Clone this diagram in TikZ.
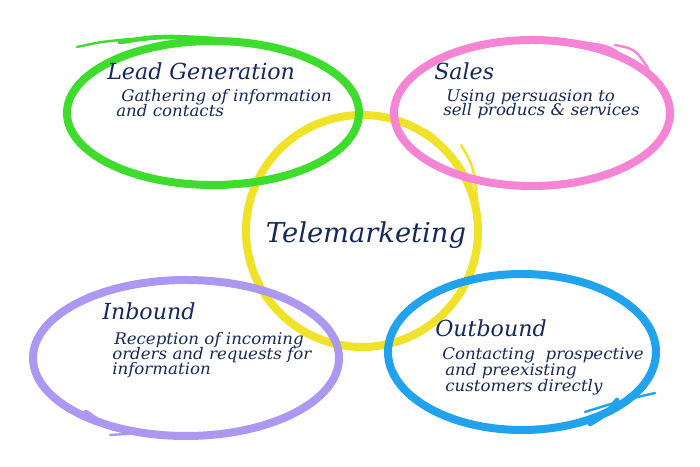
\documentclass[tikz,border=0pt]{standalone}
\usepackage{fontspec}
\newfontfamily\hand{DejaVu Serif Italic}
\newfontfamily\handb[FakeStretch=1.04]{DejaVu Serif Italic}
\definecolor{cgreen}{RGB}{62,220,44}
\definecolor{cpink}{RGB}{245,132,212}
\definecolor{cyellow}{RGB}{240,226,40}
\definecolor{cpurple}{RGB}{172,152,242}
\definecolor{cblue}{RGB}{32,162,236}
\definecolor{navy}{RGB}{22,40,92}
\begin{document}
\begin{tikzpicture}[x=0.75pt,y=0.75pt,
  ring/.style={line width=6pt},
  tailthin/.style={line width=1.8pt,line cap=round},
  tailmid/.style={line width=3.5pt,line cap=round},
  head/.style={anchor=base west,text=navy,font=\hand\fontsize{16.6}{20}\selectfont,inner sep=0pt},
  body/.style={anchor=base west,text=navy,font=\handb\fontsize{12}{14}\selectfont,inner sep=0pt},
  title/.style={anchor=base,text=navy,font=\hand\fontsize{20.5}{24}\selectfont,inner sep=0pt}]
\useasboundingbox (0,0) rectangle (700,467);
% yellow circle
\draw[ring,cyellow] (362,236) circle [radius=116];
\draw[tailmid,cyellow] (415,340) .. controls (432,333) .. (447,314);
\draw[tailthin,cyellow] (461,322) .. controls (474,300) .. (478,257);
% green
\draw[ring,cgreen] (213,354) ellipse [x radius=146, y radius=72];
\draw[tailmid,cgreen] (215,428) .. controls (160,431) .. (120,425);
\draw[tailthin,cgreen] (130,428) .. controls (100,425) .. (77,420);
% pink
\draw[ring,cpink] (532,354) ellipse [x radius=138, y radius=73];
\draw[tailmid,cpink] (580,424) .. controls (610,420) .. (630,404);
\draw[tailthin,cpink] (615,422) .. controls (635,418) .. (648,399);
% purple
\draw[ring,cpurple] (186,109) ellipse [x radius=153, y radius=78];
\draw[tailmid,cpurple] (150,33) .. controls (110,38) .. (86,55);
\draw[tailthin,cpurple] (150,34) .. controls (125,33) .. (110,32);
% blue
\draw[ring,cblue] (522,115) ellipse [x radius=134, y radius=78];
\draw[tailmid,cblue] (590,43) .. controls (605,52) .. (617,67);
\draw[tailthin,cblue] (585,55) .. controls (620,66) .. (655,74);
% texts
\node[title] (tm) at (366,224) {Telemarketing};
\node[head] (lg) at (107,387) {Lead Generation};
\node[body] (lg1) at (121,365) {Gathering of information};
\node[body] (lg2) at (116,350) {and contacts};
\node[head] (sa) at (434,387) {Sales};
\node[body] (sa1) at (446,365) {Using persuasion to};
\node[body] (sa2) at (443,351) {sell producs \& services};
\node[head] (ib) at (102,147) {Inbound};
\node[body] (ib1) at (114,122) {Reception of incoming};
\node[body] (ib2) at (112,107) {orders and requests for};
\node[body] (ib3) at (112,92) {information};
\node[head] (ob) at (435,130) {Outbound};
\node[body] (ob1) at (442,107) {Contacting\ \ prospective};
\node[body] (ob2) at (445,91) {and preexisting};
\node[body] (ob3) at (445,75) {customers directly};
\end{tikzpicture}
\end{document}
